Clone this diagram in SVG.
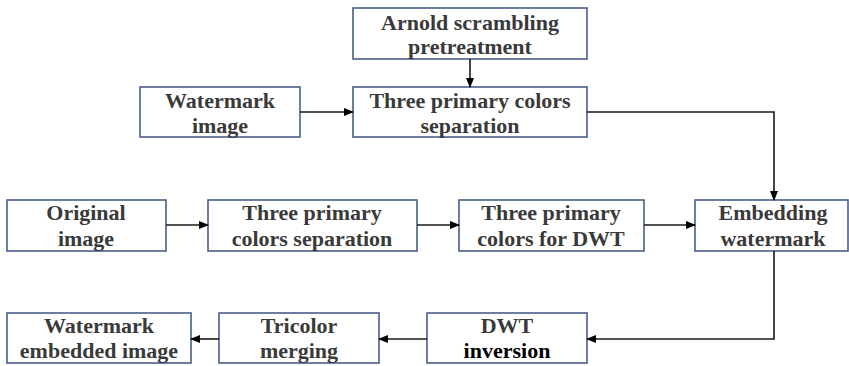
<svg xmlns="http://www.w3.org/2000/svg" width="849" height="366" viewBox="0 0 849 366">
<defs>
<marker id="ah" markerWidth="10" markerHeight="8" refX="9" refY="4" orient="auto" markerUnits="userSpaceOnUse">
<path d="M0,0 L10,4 L0,8 Z" fill="#000"/>
</marker>
<style>
.box{fill:#fff;stroke:#4a5e8c;stroke-width:1.6}
text{font-family:'Liberation Serif','Times New Roman',serif;font-weight:bold;font-size:22px;fill:#3a3a3a;text-anchor:middle}
.k{fill:#000}
.c{fill:none;stroke:#1a1a1a;stroke-width:1.6;marker-end:url(#ah)}
</style>
</defs>
<rect width="849" height="366" fill="#fff"/>
<g id="arnold"><rect class="box" x="353" y="8" width="234" height="51"/><text x="470" y="30">Arnold scrambling</text><text x="470" y="54">pretreatment</text></g>
<g id="watermark"><rect class="box" x="140" y="87" width="160" height="50"/><text x="220" y="108">Watermark</text><text x="220" y="133">image</text></g>
<g id="sep1"><rect class="box" x="353" y="87" width="234" height="50"/><text x="470" y="108">Three primary colors</text><text x="470" y="133">separation</text></g>
<g id="original"><rect class="box" x="7" y="200" width="159" height="51"/><text x="86" y="220">Original</text><text x="86" y="246">image</text></g>
<g id="sep2"><rect class="box" x="208" y="200" width="209" height="51"/><text x="312" y="220">Three primary</text><text x="312" y="246">colors separation</text></g>
<g id="dwt"><rect class="box" x="459" y="200" width="185" height="51"/><text x="551" y="220">Three primary</text><text x="551" y="246">colors for DWT</text></g>
<g id="embed"><rect class="box" x="695" y="200" width="153" height="51"/><text x="773" y="220">Embedding</text><text x="773" y="246">watermark</text></g>
<g id="inv"><rect class="box" x="427" y="313" width="160" height="50"/><text x="507" y="333">DWT</text><text class="k" x="507" y="358">inversion</text></g>
<g id="merge"><rect class="box" x="219" y="313" width="160" height="50"/><text x="299" y="333">Tricolor</text><text x="299" y="358">merging</text></g>
<g id="result"><rect class="box" x="7" y="313" width="184" height="50"/><text x="99" y="333">Watermark</text><text x="99" y="358">embedded image</text></g>
<g id="connectors">
<path class="c" d="M470,59 V87"/>
<path class="c" d="M300,112 H353"/>
<path class="c" d="M587,112 H774 V200"/>
<path class="c" d="M166,225 H208"/>
<path class="c" d="M417,225 H459"/>
<path class="c" d="M644,225 H695"/>
<path class="c" d="M774,251 V339 H587"/>
<path class="c" d="M427,339 H379"/>
<path class="c" d="M219,339 H191"/>
</g>
</svg>
